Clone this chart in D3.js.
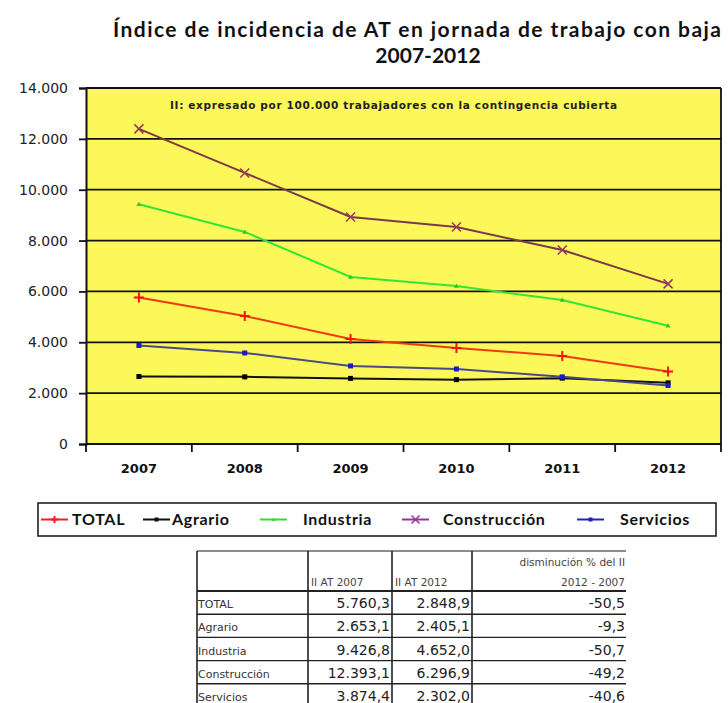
<!DOCTYPE html>
<html>
<head>
<meta charset="utf-8">
<script src="https://cdn.jsdelivr.net/npm/d3@7"></script>
<style>
  body { margin: 0; background: #fff; }
  svg { display: block; }
</style>
</head>
<body>
<div id="chart"></div>
<script>
// data
const years = ["2007", "2008", "2009", "2010", "2011", "2012"];
const total = [5760.3, 5030, 4130, 3780, 3460, 2848.9];
const agrario = [2653.1, 2640, 2580, 2530, 2590, 2405.1];
const industria = [9426.8, 8340, 6570, 6210, 5660, 4652.0];
const construccion = [12393.1, 10660, 8930, 8530, 7630, 6296.9];
const servicios = [3874.4, 3580, 3070, 2950, 2640, 2302.0];
const yTicks = [0, 2000, 4000, 6000, 8000, 10000, 12000, 14000];

const tableRows = ["TOTAL", "Agrario", "Industria", "Construcción", "Servicios"];
const at2007 = [5760.3, 2653.1, 9426.8, 12393.1, 3874.4];
const at2012 = [2848.9, 2405.1, 4652.0, 6296.9, 2302.0];
const pctDrop = [-50.5, -9.3, -50.7, -49.2, -40.6];

const series = [
  { name: "Agrario", values: agrario, line: "#111", marker: "#000", shape: "square" },
  { name: "Servicios", values: servicios, line: "#4a4a88", marker: "#1a1acc", shape: "square" },
  { name: "TOTAL", values: total, line: "#ee3a10", marker: "#ff1010", shape: "plus" },
  { name: "Industria", values: industria, line: "#33e633", marker: "#22cc22", shape: "tri" },
  { name: "Construcción", values: construccion, line: "#7a3a48", marker: "#993366", shape: "cross" }
];
const legendOrder = ["TOTAL", "Agrario", "Industria", "Construcción", "Servicios"];
const legendColors = { "TOTAL": "#ee2020", "Agrario": "#111", "Industria": "#33dd33", "Construcción": "#993399", "Servicios": "#2222bb" };

const W = 728, H = 703;
const plot = { left: 86, right: 721, top: 88, bottom: 444 };

const es = d3.formatLocale({ decimal: ",", thousands: ".", grouping: [3], currency: ["", "€"], minus: "-" });
const fmtInt = es.format(",d");
const fmt1 = es.format(",.1f");

const svg = d3.select("#chart").append("svg")
  .attr("width", W)
  .attr("height", H);

// title
svg.append("text")
  .attr("x", 113).attr("y", 37)
  .attr("textLength", 608)
  .attr("lengthAdjust", "spacing")
  .style("font-family", "Lato, 'Open Sans', sans-serif")
  .style("font-weight", "bold")
  .style("font-size", "21px")
  .style("fill", "#111")
  .text("Índice de incidencia de AT en jornada de trabajo con baja");
svg.append("text")
  .attr("x", 428).attr("y", 63)
  .attr("text-anchor", "middle")
  .style("font-family", "Lato, 'Open Sans', sans-serif")
  .style("font-weight", "bold")
  .style("font-size", "21px")
  .style("fill", "#111")
  .text("2007-2012");

const x = d3.scaleBand().domain(years).range([plot.left, plot.right]);
const y = d3.scaleLinear().domain([0, 14000]).range([plot.bottom, plot.top]);
const cx = d => x(d) + x.bandwidth() / 2;

// plot background
svg.append("rect")
  .attr("x", plot.left).attr("y", plot.top)
  .attr("width", plot.right - plot.left)
  .attr("height", plot.bottom - plot.top)
  .attr("fill", "#fdf85a");

// gridlines
svg.append("g").selectAll("line")
  .data(yTicks.filter(d => d > 0))
  .join("line")
  .attr("x1", plot.left).attr("x2", plot.right)
  .attr("y1", d => y(d)).attr("y2", d => y(d))
  .attr("stroke", "#111").attr("stroke-width", 1.8);

// right border
svg.append("line")
  .attr("x1", plot.right).attr("x2", plot.right)
  .attr("y1", plot.top).attr("y2", plot.bottom)
  .attr("stroke", "#111").attr("stroke-width", 1.8);

// y axis
const yAxis = svg.append("g")
  .attr("transform", "translate(" + plot.left + ",0)")
  .call(d3.axisLeft(y).tickValues(yTicks).tickSize(7).tickPadding(11).tickFormat(fmtInt));
yAxis.select(".domain").attr("stroke", "#111").attr("stroke-width", 2);
yAxis.selectAll(".tick line").attr("stroke", "#111").attr("stroke-width", 1.8);
yAxis.selectAll("text")
  .style("font-family", "'DejaVu Sans', sans-serif")
  .style("font-size", "14px")
  .style("fill", "#222");

// x axis
svg.append("line")
  .attr("x1", plot.left).attr("x2", plot.right)
  .attr("y1", plot.bottom).attr("y2", plot.bottom)
  .attr("stroke", "#111").attr("stroke-width", 2);
const bounds = years.map(d => x(d)).concat([plot.right]);
svg.append("g").selectAll("line")
  .data(bounds)
  .join("line")
  .attr("x1", d => d).attr("x2", d => d)
  .attr("y1", plot.bottom).attr("y2", plot.bottom + 8)
  .attr("stroke", "#111").attr("stroke-width", 1.8);
svg.append("g").selectAll("text")
  .data(years)
  .join("text")
  .attr("x", d => cx(d))
  .attr("y", 473)
  .attr("text-anchor", "middle")
  .style("font-family", "'DejaVu Sans', sans-serif")
  .style("font-weight", "bold")
  .style("font-size", "13px")
  .style("fill", "#111")
  .text(d => d);

// annotation
svg.append("text")
  .attr("x", 170).attr("y", 109)
  .attr("textLength", 447)
  .attr("lengthAdjust", "spacing")
  .style("font-family", "'DejaVu Sans', sans-serif")
  .style("font-weight", "bold")
  .style("font-size", "10.5px")
  .style("fill", "#222")
  .text("II: expresado por 100.000 trabajadores con la contingencia cubierta");

// marker drawing
function marker(g, shape, color, px, py, s) {
  if (shape === "plus") {
    g.append("path").attr("d", `M${px - s},${py}H${px + s}M${px},${py - s}V${py + s}`)
      .attr("stroke", color).attr("stroke-width", 2).attr("fill", "none");
  } else if (shape === "cross") {
    g.append("path").attr("d", `M${px - s},${py - s}L${px + s},${py + s}M${px - s},${py + s}L${px + s},${py - s}`)
      .attr("stroke", color).attr("stroke-width", 1.5).attr("fill", "none");
  } else if (shape === "tri") {
    g.append("path").attr("d", `M${px},${py - s}L${px + s},${py + s * 0.7}L${px - s},${py + s * 0.7}Z`)
      .attr("fill", color);
  } else {
    g.append("rect").attr("x", px - s).attr("y", py - s).attr("width", 2 * s).attr("height", 2 * s)
      .attr("fill", color);
  }
}
const markerSize = { plus: 5, cross: 4.5, tri: 2.5, square: 2.5 };

// lines
const line = d3.line().x((d, i) => cx(years[i])).y(d => y(d));
series.forEach(s => {
  const g = svg.append("g");
  g.append("path")
    .datum(s.values)
    .attr("d", line)
    .attr("fill", "none")
    .attr("stroke", s.line)
    .attr("stroke-width", 2);
  s.values.forEach((v, i) => marker(g, s.shape, s.marker, cx(years[i]), y(v), markerSize[s.shape]));
});

// legend
const legendBox = { x: 38, y: 503, w: 678, h: 33 };
svg.append("rect")
  .attr("x", legendBox.x).attr("y", legendBox.y)
  .attr("width", legendBox.w).attr("height", legendBox.h)
  .attr("fill", "#fff").attr("stroke", "#222").attr("stroke-width", 1.6);
const legendLineX = [41, 143, 260, 402, 577];
const legendTextX = [72, 172, 303, 443, 620];
const legY = legendBox.y + legendBox.h / 2;
legendOrder.forEach((name, i) => {
  const s = series.find(d => d.name === name);
  const g = svg.append("g");
  g.append("line")
    .attr("x1", legendLineX[i]).attr("x2", legendLineX[i] + 27)
    .attr("y1", legY).attr("y2", legY)
    .attr("stroke", legendColors[name]).attr("stroke-width", 2);
  marker(g, s.shape, legendColors[name], legendLineX[i] + 13.5, legY, s.shape === "plus" ? 3.5 : s.shape === "cross" ? 4 : 2);
  g.append("text")
    .attr("x", legendTextX[i]).attr("y", legY + 5.5)
    .style("font-family", "Lato, 'Open Sans', sans-serif")
    .style("font-weight", "bold")
    .style("font-size", "16px")
    .style("letter-spacing", "0.7px")
    .style("fill", "#111")
    .text(name);
});

// table
const colX = [197, 308, 392, 472, 626];
const rowTop = 551, headH = 40, rowH = 23.2;
const tbl = svg.append("g")
  .style("font-family", "'DejaVu Sans', sans-serif");
const rowYs = [rowTop, rowTop + headH].concat(tableRows.map((d, i) => rowTop + headH + (i + 1) * rowH));
tbl.selectAll("line.h")
  .data(rowYs)
  .join("line")
  .attr("class", "h")
  .attr("x1", colX[0]).attr("x2", colX[4])
  .attr("y1", d => d).attr("y2", d => d)
  .attr("stroke", (d, i) => i === 0 ? "#666" : "#222")
  .attr("stroke-width", (d, i) => i === 1 ? 2 : 1.4);
tbl.selectAll("line.v")
  .data(colX.slice(0, 4))
  .join("line")
  .attr("class", "v")
  .attr("x1", d => d).attr("x2", d => d)
  .attr("y1", rowTop).attr("y2", H)
  .attr("stroke", "#222")
  .attr("stroke-width", 1.6);

// header
tbl.append("text").attr("x", colX[1] + 3).attr("y", rowTop + 35)
  .style("font-size", "10.5px").style("fill", "#444").text("II AT 2007");
tbl.append("text").attr("x", colX[2] + 3).attr("y", rowTop + 35)
  .style("font-size", "10.5px").style("fill", "#444").text("II AT 2012");
tbl.append("text").attr("x", colX[4] - 1).attr("y", rowTop + 15).attr("text-anchor", "end")
  .style("font-size", "10.5px").style("fill", "#444").text("disminución % del II");
tbl.append("text").attr("x", colX[4] - 1).attr("y", rowTop + 35).attr("text-anchor", "end")
  .style("font-size", "10.5px").style("fill", "#444").text("2012 - 2007");

tableRows.forEach((name, i) => {
  const base = rowTop + headH + (i + 1) * rowH - 6;
  tbl.append("text").attr("x", colX[0] + 1).attr("y", base)
    .style("font-size", "11px").style("fill", "#333").text(name);
  tbl.append("text").attr("x", colX[2] - 2).attr("y", base).attr("text-anchor", "end")
    .style("font-size", "14px").style("fill", "#222").text(fmt1(at2007[i]));
  tbl.append("text").attr("x", colX[3] - 2).attr("y", base).attr("text-anchor", "end")
    .style("font-size", "14px").style("fill", "#222").text(fmt1(at2012[i]));
  tbl.append("text").attr("x", colX[4] - 1).attr("y", base).attr("text-anchor", "end")
    .style("font-size", "14px").style("fill", "#222").text(fmt1(pctDrop[i]));
});
</script>
</body>
</html>
